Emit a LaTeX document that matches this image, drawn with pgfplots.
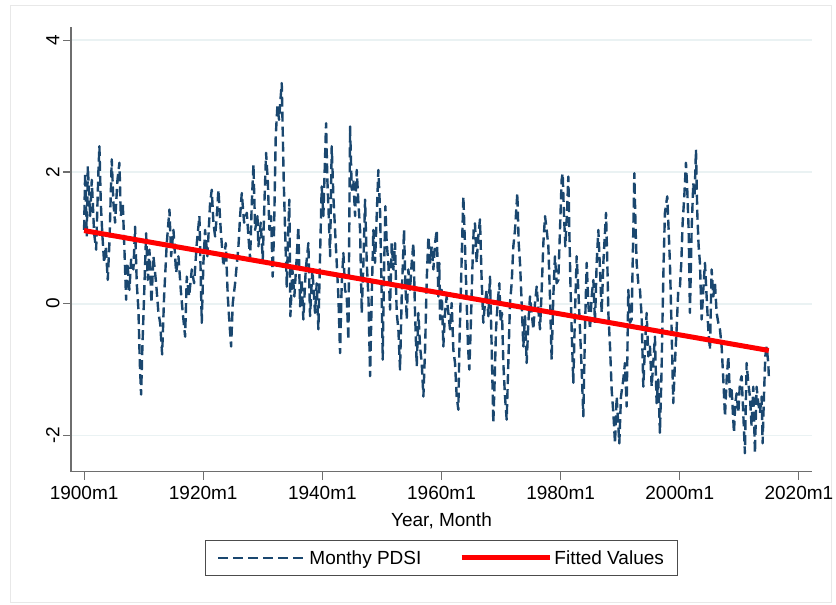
\documentclass[border=0pt]{standalone}
\usepackage{fontspec}
\setmainfont{Liberation Sans}
\usepackage{pgfplots}
\pgfplotsset{compat=1.18}

\definecolor{statanavy}{RGB}{26,71,111}
\definecolor{gridblue}{RGB}{234,242,243}
\definecolor{axisgray}{RGB}{110,110,110}

\begin{document}
\begin{tikzpicture}
\useasboundingbox (0,0) rectangle (836pt,605pt);
\draw[gray!18, line width=1pt] (10pt,2pt) rectangle (831pt,599pt);
\begin{axis}[
    at={(71pt,133.3pt)}, anchor=south west,
    scale only axis,
    width=741pt, height=444.7pt,
    xmin=1897.8, xmax=2022.2,
    ymin=-2.55, ymax=4.2,
    axis lines=left,
    axis line style={-, draw=axisgray, line width=1.3pt},
    xtick={1900,1920,1940,1960,1980,2000,2020},
    xticklabels={1900m1,1920m1,1940m1,1960m1,1980m1,2000m1,2020m1},
    ytick={-2,0,2,4},
    yticklabels={-2,0,2,4},
    tick align=outside,
    major tick length=8pt,
    tick style={draw=axisgray, line width=1.2pt},
    ticklabel style={font=\fontsize{19}{22}\selectfont},
    xticklabel style={yshift=-3pt},
    yticklabel style={rotate=90, anchor=south},
    ymajorgrids=true,
    grid style={draw=gridblue, line width=1.8pt},
    xlabel={Year, Month},
    xlabel style={font=\fontsize{19}{22}\selectfont, yshift=-6pt},
    legend columns=2,
    legend cell align=left,
    legend style={at={(0.5,-0.194)}, anchor=center,
        draw=black!70, line width=0.9pt,
        inner xsep=12pt, inner ysep=8pt,
        font=\fontsize{19}{22}\selectfont,
        /tikz/every even column/.append style={column sep=36pt}},
    legend image code/.code={\path (0pt,0pt) -- (88pt,0pt); \draw[#1] (0pt,0pt) -- (79pt,0pt);},
]
\addplot[statanavy, line width=2.4pt, dash pattern=on 10pt off 5pt, line join=round] coordinates {
(1900.0,1.12) (1900.17,1.98) (1900.45,1.02) (1900.62,2.09) (1901.01,1.33) (1901.29,1.88) (1901.68,1.07) (1902.02,0.82) (1902.41,2.03) (1902.57,2.39) (1902.80,1.53) (1903.08,1.02) (1903.36,0.62) (1903.64,0.87) (1903.97,0.36) (1904.25,0.92) (1904.64,2.19) (1904.92,1.53) (1905.2,1.23) (1905.6,1.88) (1905.93,2.14) (1906.16,1.33) (1906.49,1.53) (1906.77,0.82) (1907.05,0.06) (1907.28,0.62) (1907.61,0.21) (1907.89,0.67) (1908.28,0.52) (1908.56,1.17) (1908.84,0.31) (1909.12,-0.09) (1909.35,-0.90) (1909.57,-1.38) (1909.79,-0.65) (1910.07,0.11) (1910.41,1.07) (1910.69,0.36) (1910.97,0.82) (1911.3,0.01) (1911.64,0.72) (1912.09,0.31) (1912.48,-0.14) (1912.76,-0.29) (1913.1,-0.77) (1913.43,0.11) (1913.88,0.92) (1914.33,1.43) (1914.61,0.72) (1915.0,1.12) (1915.45,0.47) (1915.84,0.72) (1916.23,0.21) (1916.56,-0.14) (1916.96,-0.50) (1917.24,0.41) (1917.63,0.11) (1918.08,0.52) (1918.47,0.31) (1918.92,0.92) (1919.36,1.33) (1919.75,-0.29) (1920.03,0.62) (1920.31,1.12) (1920.7,0.72) (1921.15,1.53) (1921.43,1.73) (1921.71,1.23) (1921.99,1.02) (1922.27,1.33) (1922.55,1.73) (1922.94,1.12) (1923.39,0.57) (1923.78,0.92) (1924.12,0.11) (1924.4,-0.29) (1924.68,-0.65) (1924.96,0.01) (1925.35,0.31) (1925.91,0.87) (1926.19,1.33) (1926.47,1.68) (1926.86,1.23) (1927.31,1.38) (1927.59,1.02) (1927.87,0.67) (1928.15,1.53) (1928.43,2.11) (1928.71,1.12) (1929.1,1.33)
(1929.26,0.87) (1929.65,1.23) (1929.99,0.67) (1930.27,1.53) (1930.55,2.29) (1930.83,1.88) (1931.11,1.12) (1931.39,1.33) (1931.66,0.41) (1931.89,1.12) (1932.17,2.54) (1932.45,3.0) (1932.73,2.79) (1933.01,3.15) (1933.18,3.35) (1933.34,2.64) (1933.51,1.88) (1933.74,1.12) (1934.02,0.26) (1934.24,1.02) (1934.46,1.58) (1934.63,-0.19) (1934.97,0.52) (1935.3,0.11) (1935.64,0.62) (1935.97,1.17) (1936.25,-0.04) (1936.53,0.36) (1936.81,-0.24) (1937.21,0.52) (1937.65,0.92) (1937.93,-0.19) (1938.33,0.52) (1938.77,-0.14) (1939.05,0.31) (1939.33,-0.39) (1939.61,0.72) (1939.89,1.78) (1940.17,1.33) (1940.39,2.03) (1940.62,2.74) (1940.84,1.88) (1941.07,1.33) (1941.29,0.72) (1941.57,2.39) (1941.85,1.63) (1942.13,1.12) (1942.41,0.62) (1942.69,0.11) (1942.97,-0.75) (1943.25,0.31) (1943.53,0.77) (1943.81,0.21) (1944.09,0.11) (1944.37,-0.55) (1944.65,2.69) (1944.93,1.73) (1945.21,1.88) (1945.49,1.33) (1945.77,2.03) (1946.05,1.53) (1946.33,1.12) (1946.61,-0.14) (1946.89,0.62) (1947.17,1.58) (1947.45,0.62) (1947.73,0.11) (1948.01,-1.10) (1948.29,0.11) (1948.56,1.12) (1948.84,0.62) (1949.12,1.33) (1949.4,2.03) (1949.68,1.43) (1949.91,0.36) (1950.13,-0.85) (1950.36,0.52) (1950.58,1.48) (1950.8,0.92) (1951.08,0.62) (1951.36,-0.09) (1951.64,0.92) (1951.92,0.52) (1952.2,0.92) (1952.48,-0.14) (1952.76,-0.39) (1953.04,-1.0) (1953.32,0.11) (1953.71,1.12) (1953.94,0.31) (1954.16,-0.24) (1954.44,0.52) (1954.72,0.21) (1955.0,0.62) (1955.28,0.92) (1955.56,-0.14) (1955.84,-0.95) (1956.12,-0.14) (1956.4,-0.65) (1956.68,-0.90) (1956.96,-1.41) (1957.24,-0.70) (1957.52,0.36) (1957.8,1.02) (1958.08,0.62) (1958.36,0.87) (1958.64,0.52) (1958.92,0.92) (1959.2,1.12) (1959.48,0.11)
(1959.64,0.62) (1959.75,-0.24) (1960.03,0.21) (1960.31,-0.65) (1960.59,-0.14) (1960.87,0.11) (1961.15,-0.14) (1961.43,-0.39) (1961.71,0.01) (1961.99,-0.70) (1962.27,-0.90) (1962.55,-1.41) (1962.83,-1.61) (1963.0,-0.65) (1963.22,0.11) (1963.44,0.87) (1963.67,1.63) (1963.95,0.87) (1964.23,0.01) (1964.45,-0.65) (1964.67,-1.0) (1964.9,-0.39) (1965.18,0.52) (1965.4,1.12) (1965.62,1.22) (1965.9,0.62) (1966.18,1.02) (1966.46,1.28) (1966.74,0.36) (1967.02,-0.29) (1967.3,0.01) (1967.58,0.21) (1967.86,-0.19) (1968.14,0.41) (1968.42,-0.65) (1968.7,-1.81) (1968.93,-1.15) (1969.15,-0.39) (1969.43,0.01) (1969.71,0.31) (1969.93,-0.29) (1970.16,-0.14) (1970.38,-0.90) (1970.66,-1.41) (1970.94,-1.76) (1971.22,-0.90) (1971.5,0.01) (1971.78,0.31) (1972.06,0.87) (1972.34,1.12) (1972.73,1.68) (1972.96,0.92) (1973.18,0.62) (1973.46,0.01) (1973.74,-0.65) (1974.02,-0.19) (1974.3,-0.90) (1974.58,-0.29) (1974.86,0.11) (1975.14,-0.14) (1975.42,-0.39) (1975.7,0.01) (1975.98,0.26) (1976.26,-0.09) (1976.54,-0.39) (1976.82,0.21) (1977.1,0.92) (1977.38,1.33) (1977.66,1.12) (1977.94,0.87) (1978.21,0.11) (1978.49,-0.85) (1978.77,0.11) (1979.05,0.72) (1979.33,0.31) (1979.61,0.36) (1979.89,1.12) (1980.17,1.88) (1980.34,1.98) (1980.57,1.33) (1980.79,0.87) (1981.07,1.38) (1981.29,1.93) (1981.46,1.12) (1981.63,0.36) (1981.85,-0.39) (1982.13,-1.20) (1982.41,-0.14) (1982.69,0.72) (1982.97,0.21) (1983.25,-0.39) (1983.53,-1.0) (1983.81,-1.71) (1984.09,-0.39) (1984.37,0.62) (1984.65,0.01) (1984.93,-0.39) (1985.21,0.11) (1985.49,0.36) (1985.77,-0.29) (1986.05,0.62) (1986.33,1.12) (1986.61,0.52) (1986.89,-0.14) (1987.17,0.62) (1987.62,1.38) (1987.84,0.62) (1988.01,-0.14) (1988.29,-0.65) (1988.57,-1.31) (1988.85,-1.66) (1989.13,-2.12) (1989.41,-1.41)
(1989.85,-2.12) (1990.13,-1.41) (1990.52,-1.15) (1990.8,-0.90) (1991.08,-1.56) (1991.36,0.21) (1991.64,-0.29) (1991.92,-0.24) (1992.2,1.12) (1992.37,1.98) (1992.59,1.12) (1992.76,0.62) (1993.04,0.31) (1993.32,0.21) (1993.6,-0.19) (1993.88,-1.26) (1994.16,-0.65) (1994.44,-0.14) (1994.72,-0.80) (1995.0,-0.65) (1995.28,-1.26) (1995.55,-0.90) (1995.83,-0.50) (1996.11,-1.51) (1996.39,-1.15) (1996.67,-1.96) (1996.95,-1.0) (1997.12,-0.14) (1997.29,0.62) (1997.51,1.38) (1997.9,1.63) (1998.13,1.12) (1998.35,0.62) (1998.63,-0.39) (1998.91,-1.51) (1999.19,-0.90) (1999.47,-0.39) (1999.75,0.21) (2000.03,0.26) (2000.26,0.62) (2000.48,1.22) (2000.76,1.63) (2001.04,2.14) (2001.26,1.73) (2001.49,1.12) (2001.71,-0.14) (2001.99,1.12) (2002.27,1.83) (2002.49,1.63) (2002.72,2.34) (2002.94,1.38) (2003.17,0.87) (2003.39,0.62) (2003.67,-0.24) (2003.95,0.21) (2004.23,0.62) (2004.51,0.11) (2004.79,-0.39) (2005.07,-0.70) (2005.35,0.52) (2005.63,0.11) (2005.91,0.31) (2006.19,-0.14) (2006.47,-0.29) (2006.75,-0.39) (2007.03,-0.65) (2007.31,-1.15) (2007.59,-1.71) (2007.87,-1.15) (2008.15,-0.80) (2008.43,-1.41) (2008.71,-1.31) (2009.1,-1.96) (2009.32,-1.51) (2009.55,-1.36) (2009.83,-1.66) (2010.1,-1.20) (2010.38,-1.10) (2010.66,-1.66) (2010.94,-2.27) (2011.22,-0.90) (2011.5,-1.20) (2011.78,-1.41) (2012.06,-1.86) (2012.34,-1.26) (2012.62,-2.27) (2012.9,-1.26) (2013.18,-1.51) (2013.46,-1.66) (2013.74,-1.41) (2013.91,-2.12) (2014.13,-1.41) (2014.36,-0.80) (2014.58,-0.65) (2014.86,-0.90) (2014.95,-1.10)
};
\addlegendentry{Monthy PDSI}
\addplot[red, line width=5pt] coordinates {(1900.0,1.11) (2014.95,-0.71)};
\addlegendentry{Fitted Values\hspace{18pt}}
\end{axis}
\end{tikzpicture}
\end{document}
